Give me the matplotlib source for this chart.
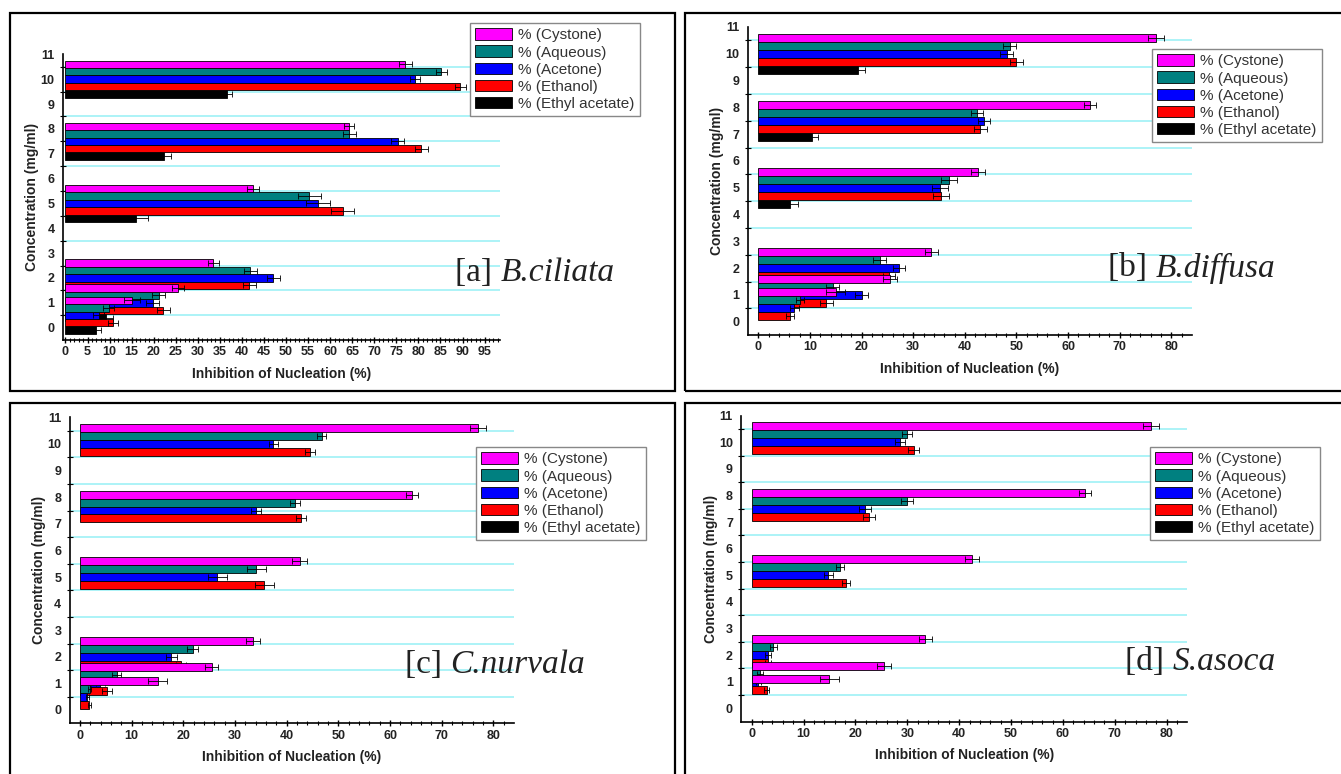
import numpy as np
import matplotlib
matplotlib.use("Agg")
import matplotlib.pyplot as plt
from matplotlib.patches import Rectangle, Patch

plt.rcParams['font.family'] = ['Liberation Sans', 'DejaVu Sans']

# concentration groups (mg/ml) as plotted on the y axis
conc = [10, 7.5, 5, 2, 1, 0.5]
series = ["% (Cystone)", "% (Aqueous)", "% (Acetone)", "% (Ethanol)", "% (Ethyl acetate)"]
colors = ["#ff00ff", "#008080", "#0000ff", "#ff0000", "#000000"]

# standard (same in every panel)
cystone = [77.0, 64.3, 42.5, 33.5, 25.5, 15.0]
cystone_err = [1.5, 1.2, 1.4, 1.3, 1.3, 1.8]

# [a] B.ciliata
a_aqueous = [85.2, 64.3, 55.3, 41.9, 21.1, 9.8]
a_acetone = [79.2, 75.3, 57.3, 47.1, 19.8, 7.5]
a_ethanol = [89.5, 80.7, 62.8, 41.7, 22.2, 10.8]
a_ethyl = [36.6, 22.4, 16.0, 0, 9.3, 6.9]
a_err = [1.2, 1.5, 2.7, 1.5, 1.5, 1.2]

# [b] B.diffusa
b_aqueous = [48.7, 42.3, 36.9, 23.5, 14.4, 8.1]
b_acetone = [48.1, 43.7, 35.2, 27.3, 20.0, 7.0]
b_ethanol = [50.0, 43.0, 35.4, 25.3, 13.2, 6.1]
b_ethyl = [19.4, 10.3, 6.1, 0, 0, 0]
b_err = [1.3, 1.2, 1.5, 1.2, 1.3, 0.8]

# [c] C.nurvala
c_aqueous = [46.8, 41.6, 34.1, 21.8, 7.1, 1.9]
c_acetone = [37.4, 34.1, 26.6, 17.7, 3.9, 1.4]
c_ethanol = [44.5, 42.8, 35.7, 19.5, 5.2, 1.8]
c_ethyl = [0, 0, 0, 0, 0, 0]
c_err = [0.9, 1.0, 1.8, 1.0, 0.9, 0.3]

# [d] S.asoca
d_aqueous = [29.9, 29.9, 17.0, 4.2, 1.6, 0]
d_acetone = [28.6, 21.9, 14.8, 3.1, 1.3, 0]
d_ethanol = [31.2, 22.6, 18.2, 3.2, 2.9, 0]
d_ethyl = [0, 0, 0, 0, 0, 0]
d_err = [1.0, 1.2, 0.8, 0.6, 0.5, 0.3]

W, H = 1341, 774
fig = plt.figure(figsize=(W / 100, H / 100), dpi=100)


def px_axes(l, r, t, b):
    return fig.add_axes([l / W, 1 - b / H, (r - l) / W, (b - t) / H])


def panel(ax, values, err, xmax, xstep, xminor, xmin):
    offsets = [0.6, 0.3, 0.0, -0.3, -0.6]
    y = np.array(conc)
    for yy in np.arange(0.5, 11, 1.0):
        ax.axhline(yy, color="#a6f2f7", lw=1.3, zorder=0)
    # ethyl acetate first, cystone last (later series sit on top)
    for i in range(4, -1, -1):
        v = np.array(values[i], dtype=float)
        e = np.array(cystone_err if i == 0 else err, dtype=float)
        pos = y + offsets[i]
        m = v > 0
        ax.barh(pos[m], v[m], height=0.3, color=colors[i], edgecolor="black",
                linewidth=0.6, zorder=2 + 2 * (4 - i))
        ax.errorbar(v[m], pos[m], xerr=e[m], fmt="none", ecolor="black",
                    elinewidth=0.6, capsize=2, capthick=0.6,
                    zorder=3 + 2 * (4 - i))
    ax.set_xlim(xmin, xmax)
    ax.set_ylim(-0.5, 11)
    ax.set_xticks(np.arange(0, xmax, xstep))
    ax.set_xticks(np.arange(0, xmax, xminor), minor=True)
    ax.set_yticks(range(0, 12))
    ax.set_yticks(np.arange(0.5, 11, 1.0), minor=True)
    ax.tick_params(axis="x", which="major", direction="inout", length=5,
                   width=1, labelsize=9, pad=2)
    ax.tick_params(axis="x", which="minor", direction="inout", length=3, width=0.8)
    ax.tick_params(axis="y", which="major", length=0, labelsize=9, pad=6)
    ax.tick_params(axis="y", which="minor", direction="inout", length=4, width=0.8)
    for lab in ax.get_xticklabels() + ax.get_yticklabels():
        lab.set_fontweight("bold")
        lab.set_color("#222222")
    for s in ["top", "right"]:
        ax.spines[s].set_visible(False)
    for s in ["left", "bottom"]:
        ax.spines[s].set_linewidth(1.2)
    ax.set_xlabel("Inhibition of Nucleation (%)", fontsize=10, fontweight="bold",
                  color="#222222", labelpad=6)
    ax.set_ylabel("Concentration (mg/ml)", fontsize=10, fontweight="bold",
                  color="#222222", labelpad=1)
    ax.patch.set_alpha(0)


ax_a = px_axes(62.8, 500, 54.3, 340.1)
panel(ax_a, [cystone, a_aqueous, a_acetone, a_ethanol, a_ethyl], a_err,
      98.5, 5, 1, -0.6)
ax_b = px_axes(748, 1192, 26.9, 335.1)
panel(ax_b, [cystone, b_aqueous, b_acetone, b_ethanol, b_ethyl], b_err,
      84, 10, 2, -2)
ax_c = px_axes(69.7, 514, 417.4, 723.3)
panel(ax_c, [cystone, c_aqueous, c_acetone, c_ethanol, c_ethyl], c_err,
      84, 10, 2, -2)
ax_d = px_axes(741.3, 1187.4, 415.7, 721.6)
panel(ax_d, [cystone, d_aqueous, d_acetone, d_ethanol, d_ethyl], d_err,
      84, 10, 2, -2)

handles = [Patch(facecolor=c, edgecolor="black", linewidth=0.6) for c in colors]
for (lx, ly) in [(470, 23), (1152, 49), (476, 447), (1150, 447)]:
    leg = fig.legend(handles, series, loc="upper left",
                     bbox_to_anchor=(lx / W, 1 - ly / H), fontsize=11,
                     fancybox=False, framealpha=1, edgecolor="#888888",
                     handlelength=2.4, handleheight=0.78, labelspacing=0.2,
                     handletextpad=0.4, borderpad=0.35, borderaxespad=0)
    leg.get_frame().set_linewidth(1.0)
    for t in leg.get_texts():
        t.set_color("#333333")

# panel names: "[x] " upright + species name in italic
labels = [(455, 273, "[a] ", "B.ciliata"),
          (1108, 268, "[b] ", "B.diffusa"),
          (405, 665, "[c] ", "C.nurvala"),
          (1125, 662, "[d] ", "S.asoca")]
renderer = fig.canvas.get_renderer()
for (tx, ty, tag, name) in labels:
    t1 = fig.text(tx / W, 1 - ty / H, tag, fontsize=24, family="Liberation Serif",
                  ha="left", va="center", color="#222222")
    bb = t1.get_window_extent(renderer)
    fig.text(bb.x1 / W, 1 - ty / H, name, fontsize=24, family="Liberation Serif",
             style="italic", ha="left", va="center", color="#222222")

# panel frames
for (l, t, r, b) in [(10, 12.5, 675, 390.5), (684.5, 12.5, 1345, 390.5),
                     (10, 402.5, 675, 780), (684.5, 402.5, 1345, 780)]:
    fig.add_artist(Rectangle((l / W, 1 - b / H), (r - l) / W, (b - t) / H,
                             transform=fig.transFigure, fill=False,
                             edgecolor="black", linewidth=1.6, clip_on=False))

fig.savefig("out.png", dpi=100)
